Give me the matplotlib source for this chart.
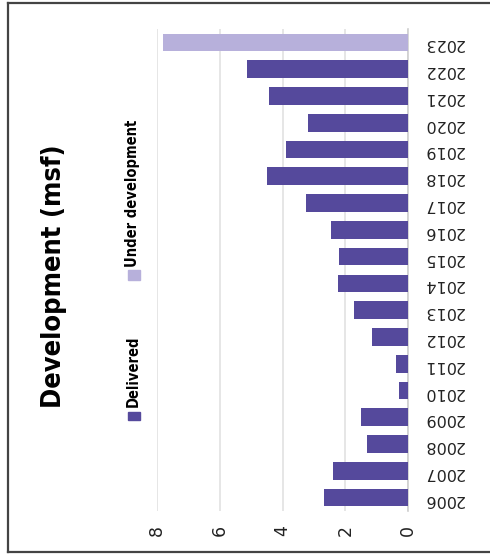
import matplotlib
matplotlib.use("Agg")
import matplotlib.pyplot as plt
from matplotlib.patches import Rectangle
from matplotlib.lines import Line2D

# Annual development, million square feet
years = ["2006", "2007", "2008", "2009", "2010", "2011", "2012", "2013", "2014",
         "2015", "2016", "2017", "2018", "2019", "2020", "2021", "2022", "2023"]
delivered = [2.68, 2.38, 1.32, 1.50, 0.29, 0.39, 1.14, 1.73, 2.23,
             2.20, 2.46, 3.24, 4.50, 3.90, 3.20, 4.43, 5.14, 0.0]
under_dev = [0, 0, 0, 0, 0, 0, 0, 0, 0,
             0, 0, 0, 0, 0, 0, 0, 0, 7.80]
value_ticks = [0, 2, 4, 6, 8]

c_deliv = "#55499c"
c_under = "#b7b0db"
narrow = ["DejaVu Sans", "Liberation Sans"]

fig = plt.figure(figsize=(4.9, 5.55), dpi=100)
ax = fig.add_axes([157 / 490, 44 / 555, 251 / 490, 482 / 555])

pos = list(range(len(years)))
ax.barh(pos, delivered, height=0.66, color=c_deliv, zorder=3)
ax.barh(pos, under_dev, height=0.66, color=c_under, zorder=3)

ax.set_xlim(8, 0)
ax.set_ylim(-0.5, len(years) - 0.5)
ax.set_xticks(value_ticks)
ax.set_xticklabels([str(v) for v in value_ticks], rotation=90, fontsize=12.5,
                   color="#222222")
ax.set_yticks(pos)
ax.set_yticklabels(years, rotation=180, fontsize=11.5, color="#222222")
ax.yaxis.tick_right()
ax.tick_params(axis="x", length=0, pad=10)
ax.tick_params(axis="y", length=0, pad=11)

ax.grid(axis="x", color="#e2e2e2", lw=1.2, zorder=0)
for side in ["top", "bottom", "left"]:
    ax.spines[side].set_visible(False)
ax.spines["right"].set_color("#cfcfcf")
ax.spines["right"].set_linewidth(1.2)

# title, rotated with the chart
fig.text(54 / 490, 1 - 276 / 555, "Development (msf)", rotation=90,
         ha="center", va="center", fontsize=19.5, fontweight="bold",
         fontstretch="condensed", family=narrow, color="black")

# legend
fig.patches.append(Rectangle((128 / 490, 1 - 420 / 555), 12 / 490, 8 / 555,
                             transform=fig.transFigure, color=c_deliv))
fig.text(133 / 490, 1 - 407 / 555, "Delivered", rotation=90, ha="center",
         va="bottom", fontsize=10.5, fontweight="bold", fontstretch="condensed",
         family=narrow)
fig.patches.append(Rectangle((128 / 490, 1 - 280 / 555), 12 / 490, 10 / 555,
                             transform=fig.transFigure, color=c_under))
fig.text(133 / 490, 1 - 267 / 555, "Under development", rotation=90,
         ha="center", va="bottom", fontsize=10.5, fontweight="bold",
         fontstretch="condensed", family=narrow)

# outer frame: left, top and bottom edges
x0, y0, y1 = 7.5 / 490, 1 - 552 / 555, 1 - 2.5 / 555
for xs, ys in [([x0, x0], [y0, y1]), ([x0, 1], [y1, y1]), ([x0, 1], [y0, y0])]:
    fig.add_artist(Line2D(xs, ys, transform=fig.transFigure,
                          color="#444444", lw=1.6))

fig.savefig("out.png", dpi=100)
